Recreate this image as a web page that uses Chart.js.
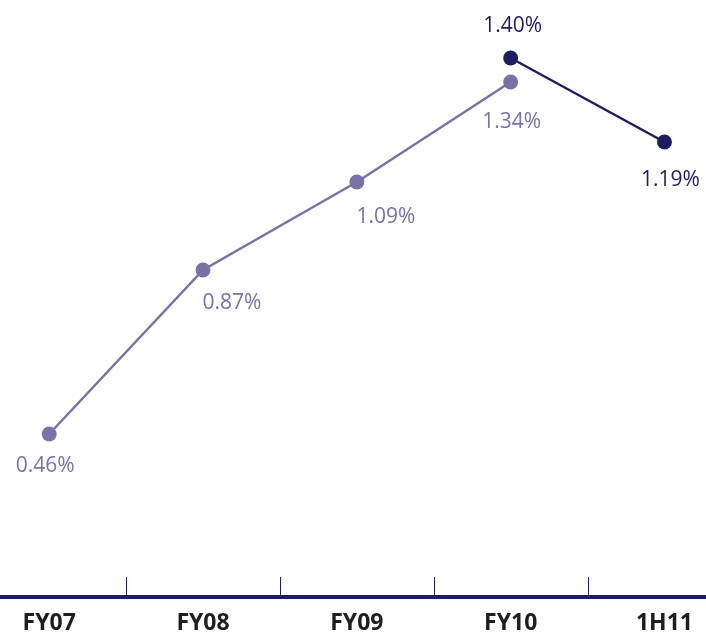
<!DOCTYPE html>
<html>
<head>
<meta charset="utf-8">
<style>
  html, body { margin: 0; padding: 0; background: #ffffff; }
  #wrap { width: 706px; height: 634px; }
</style>
<script src="https://cdn.jsdelivr.net/npm/chart.js@4/dist/chart.umd.min.js"></script>
</head>
<body>
<div id="wrap"><canvas id="chart"></canvas></div>
<script>
// ── Data ─────────────────────────────────────────────
const CATEGORIES = ['FY07', 'FY08', 'FY09', 'FY10', '1H11'];
const SERIES_FY   = [0.46, 0.87, 1.09, 1.34, null];
const SERIES_1H   = [null, null, null, 1.40, 1.19];

// ── Styles ───────────────────────────────────────────
const LIGHT = '#7a71a7';
const NAVY  = '#1f1c63';
const FONT  = '"Open Sans", "Liberation Sans", sans-serif';

// label offsets (px, relative to point) per series
const LABEL_OFFSETS = [
    [[-4, 32], [29, 33], [29, 35], [1, 40], null],
    [null, null, null, [2, -32], [6, 38]],
];

function toPoints(values) {
    return values.map((v, i) => ({ x: i, y: v }));
}

const pointLabels = {
    id: 'pointLabels',
    afterDatasetsDraw(chart) {
        const ctx = chart.ctx;
        ctx.save();
        ctx.font = '21px ' + FONT;
        ctx.textAlign = 'center';
        ctx.textBaseline = 'middle';
        chart.data.datasets.forEach((ds, di) => {
            const meta = chart.getDatasetMeta(di);
            meta.data.forEach((pt, i) => {
                const v = ds.data[i].y;
                const off = LABEL_OFFSETS[di][i];
                if (v == null || !off) return;
                ctx.fillStyle = ds.borderColor;
                ctx.fillText(v.toFixed(2) + '%', pt.x + off[0], pt.y + off[1]);
            });
        });
        ctx.restore();
    }
};

// small tick marks between categories, rising from the axis line
const dividers = {
    id: 'dividers',
    afterDraw(chart) {
        const ctx = chart.ctx;
        const x = chart.scales.x;
        const bottom = chart.chartArea.bottom;
        ctx.save();
        ctx.strokeStyle = NAVY;
        ctx.lineWidth = 1;
        for (let i = 0; i < CATEGORIES.length - 1; i++) {
            const px = Math.round(x.getPixelForValue(i + 0.5)) + 0.5;
            ctx.beginPath();
            ctx.moveTo(px, bottom - 20);
            ctx.lineTo(px, bottom);
            ctx.stroke();
        }
        ctx.restore();
    }
};

new Chart(document.getElementById('chart'), {
    type: 'line',
    data: {
        datasets: [
            {
                data: toPoints(SERIES_FY),
                borderColor: LIGHT,
                backgroundColor: LIGHT,
                borderWidth: 2.5,
                pointRadius: 7.5,
                pointBorderWidth: 0,
                spanGaps: false,
            },
            {
                data: toPoints(SERIES_1H),
                borderColor: NAVY,
                backgroundColor: NAVY,
                borderWidth: 2.5,
                pointRadius: 7.5,
                pointBorderWidth: 0,
                spanGaps: false,
            },
        ],
    },
    options: {
        responsive: true,
        maintainAspectRatio: false,
        animation: false,
        layout: { padding: 0, autoPadding: false },
        plugins: {
            legend: { display: false },
            tooltip: { enabled: false },
        },
        scales: {
            x: {
                type: 'linear',
                min: -0.32,
                max: 4.27,
                afterBuildTicks: s => { s.ticks = CATEGORIES.map((c, i) => ({ value: i })); },
                afterFit: s => { s.height = 37; },
                grid: { display: false, drawTicks: false },
                border: { display: true, color: NAVY, width: 4 },
                ticks: {
                    autoSkip: false,
                    maxRotation: 0,
                    padding: 13,
                    color: '#1e1e1e',
                    font: { family: FONT, size: 23, weight: 'bold' },
                    callback: v => CATEGORIES[v],
                },
            },
            y: {
                display: false,
                min: 0.0525,
                max: 1.545,
            },
        },
    },
    plugins: [pointLabels, dividers],
});
</script>
</body>
</html>
